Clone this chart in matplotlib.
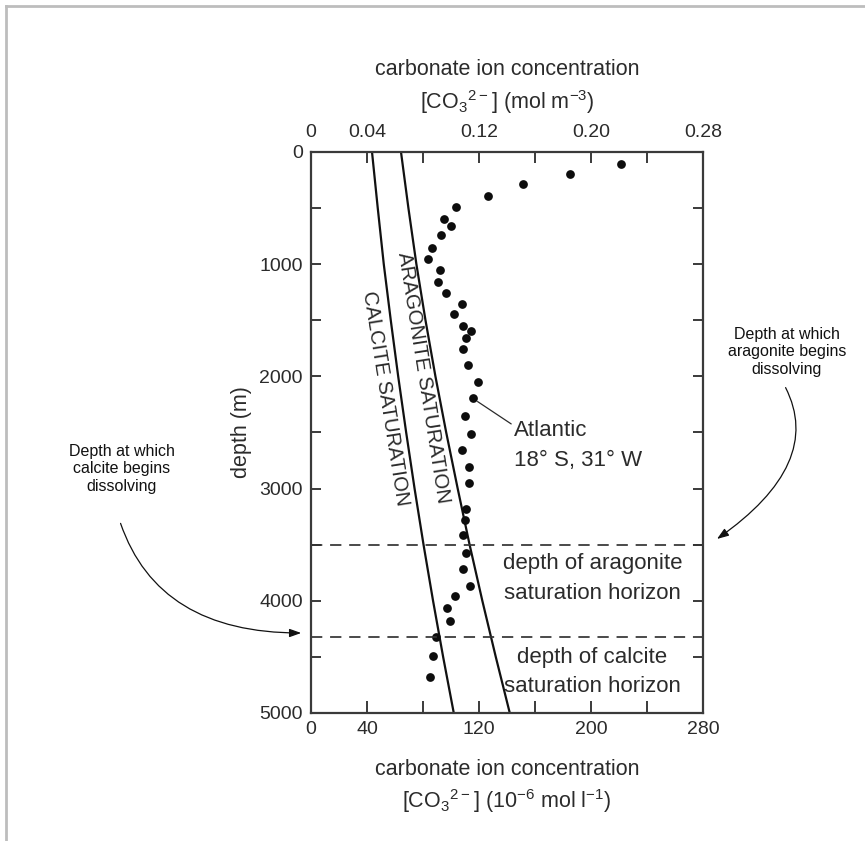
import numpy as np
import matplotlib
matplotlib.use("Agg")
import matplotlib.pyplot as plt
from matplotlib.lines import Line2D
from matplotlib.ticker import FixedLocator

plt.rcParams['font.family'] = ['Liberation Sans', 'DejaVu Sans']
plt.rcParams['mathtext.default'] = 'regular'

# Atlantic station, 18 S 31 W: depth (m) and [CO3 2-] (umol/kg)
atl_depth = [107, 199, 288, 390, 493, 600, 660, 740, 854, 954,
             1052, 1156, 1259, 1357, 1444, 1548, 1595, 1660, 1756, 1898,
             2053, 2197, 2353, 2512, 2656, 2810, 2953, 3184, 3284, 3414,
             3577, 3719, 3868, 3957, 4064, 4177, 4323, 4492, 4682]
atl_co3 = [221.2, 185.0, 151.6, 126.8, 103.8, 94.8, 99.8, 92.7, 86.8, 83.8,
           92.5, 90.5, 96.4, 108.1, 102.4, 108.8, 114.1, 110.7, 108.4, 112.4,
           119.1, 115.7, 110.2, 114.3, 107.6, 113.1, 113.1, 110.7, 110.0, 108.9,
           110.7, 108.9, 113.6, 102.9, 96.9, 99.6, 89.3, 86.9, 85.0]

# saturation concentrations vs depth
sat_depth = [0, 500, 1000, 1500, 2000, 2500, 3000, 3500, 4000, 4500, 5000]
calcite_sat = [43.6, 47.7, 52.0, 57.0, 62.3, 68.0, 74.0, 80.4, 87.2, 94.4, 102.0]
aragonite_sat = [64.3, 69.6, 75.3, 81.8, 88.9, 96.6, 104.8, 113.3, 122.4, 132.0, 142.0]

arag_horizon = 3500
calc_horizon = 4320

ink = '#2b2b2b'

fig = plt.figure(figsize=(8.65, 8.41), dpi=100)
ax = fig.add_axes([0.3595, 0.1522, 0.4532, 0.6671])

ax.plot(calcite_sat, sat_depth, color='#111111', lw=1.6)
ax.plot(aragonite_sat, sat_depth, color='#111111', lw=1.6)
ax.plot(atl_co3, atl_depth, 'o', color='#0d0d0d', ms=6.3, mew=0)

for h in (arag_horizon, calc_horizon):
    ax.axhline(h, color='#333333', lw=1.25, ls=(0, (6.5, 4.5)))

ax.set_xlim(0, 280)
ax.set_ylim(5000, 0)

ax.xaxis.set_major_locator(FixedLocator([0, 40, 120, 200, 280]))
ax.xaxis.set_minor_locator(FixedLocator([80, 160, 240]))
ax.yaxis.set_major_locator(FixedLocator(np.arange(0, 5001, 1000)))
ax.yaxis.set_minor_locator(FixedLocator(np.arange(500, 5000, 1000)))
ax.tick_params(axis='x', which='both', direction='in', length=9, width=1.3,
               colors=ink, labelsize=14, pad=6)
ax.tick_params(axis='y', which='both', direction='in', length=7, width=1.3,
               colors=ink, labelsize=14, right=True, pad=6)
for s in ax.spines.values():
    s.set_linewidth(1.6)
    s.set_color('#3a3a3a')

# upper scale in mol m-3
top = ax.secondary_xaxis('top', functions=(lambda v: v / 1000, lambda v: v * 1000))
top.xaxis.set_major_locator(FixedLocator([0, 0.04, 0.12, 0.20, 0.28]))
top.xaxis.set_minor_locator(FixedLocator([0.08, 0.16, 0.24]))
top.set_xticklabels(['0', '0.04', '0.12', '0.20', '0.28'])
top.tick_params(which='both', direction='in', length=8, width=1.3,
                colors=ink, labelsize=14, pad=8)
top.spines['top'].set_visible(False)
top.set_xlabel('carbonate ion concentration\n[CO$_3$$^{2-}$] (mol m$^{-3}$)',
               fontsize=15.5, color=ink, labelpad=11, linespacing=1.35)

ax.set_xlabel('carbonate ion concentration\n[CO$_3$$^{2-}$] (10$^{-6}$ mol l$^{-1}$)',
              fontsize=15.5, color=ink, labelpad=15, linespacing=1.35)
ax.set_ylabel('depth (m)', fontsize=15.5, color=ink, labelpad=5)

# labels along the saturation curves
ax.text(80, 2014, 'ARAGONITE SATURATION', rotation=-81, ha='center', va='center',
        fontsize=14.7, color=ink, rotation_mode='anchor')
ax.text(53, 2193, 'CALCITE SATURATION', rotation=-81, ha='center', va='center',
        fontsize=14.5, color=ink, rotation_mode='anchor')

ax.annotate('Atlantic\n18° S, 31° W', xy=(atl_co3[21], atl_depth[21]),
            xytext=(145, 2385), ha='left', va='top', fontsize=16, color=ink,
            linespacing=1.6,
            arrowprops=dict(arrowstyle='-', lw=0.9, color=ink, shrinkA=0,
                            shrinkB=4, relpos=(0.0, 0.88)))

ax.text(201, 3800, 'depth of aragonite\nsaturation horizon', ha='center',
        va='center', fontsize=16, color=ink, linespacing=1.55)
ax.text(201, 4635, 'depth of calcite\nsaturation horizon', ha='center',
        va='center', fontsize=16, color=ink, linespacing=1.55)

# explanatory notes outside the frame
ax.text(-135, 2825, 'Depth at which\ncalcite begins\ndissolving', ha='center',
        va='center', fontsize=11.5, color='#111111')
ax.text(340, 1780, 'Depth at which\naragonite begins\ndissolving', ha='center',
        va='center', fontsize=11.5, color='#111111')

ax.annotate('', xy=(-7, 4287), xytext=(-136, 3310), annotation_clip=False,
            arrowprops=dict(arrowstyle='-|>,head_length=0.7,head_width=0.25',
                            lw=0.9, color='#111111', shrinkA=0, shrinkB=0,
                            connectionstyle='angle3,angleA=-71,angleB=0'))
ax.annotate('', xy=(290, 3449), xytext=(339, 2100), annotation_clip=False,
            arrowprops=dict(arrowstyle='-|>,head_length=0.7,head_width=0.25',
                            lw=0.9, color='#111111', shrinkA=0, shrinkB=0,
                            connectionstyle='angle3,angleA=-63,angleB=35'))

# page border
fig.add_artist(Line2D([0.0075, 0.0075], [0, 0.9925], color='#bdbdbd', lw=2))
fig.add_artist(Line2D([0.0075, 1.0], [0.9925, 0.9925], color='#bdbdbd', lw=2))

fig.savefig('out.png', dpi=100)
